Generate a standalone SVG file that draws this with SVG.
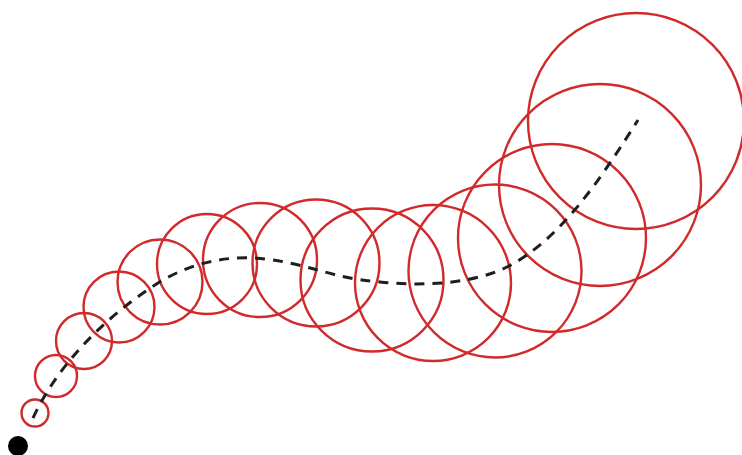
<svg xmlns="http://www.w3.org/2000/svg" width="742" height="455" viewBox="0 0 742 455">
<style>
.c{fill:none;stroke:#d02a2a;stroke-width:2.4}
.path{fill:none;stroke:#1e1e1e;stroke-width:3;stroke-dasharray:10 8}
</style>
<rect width="742" height="455" fill="#fff"/>
<g id="circles">
<g id="c1"><circle class="c" cx="35" cy="413" r="13.5"/></g>
<g id="c2"><circle class="c" cx="56" cy="376" r="21"/></g>
<g id="c3"><circle class="c" cx="84" cy="341" r="28"/></g>
<g id="c4"><circle class="c" cx="119" cy="307" r="35.5"/></g>
<g id="c5"><circle class="c" cx="160" cy="282" r="42.5"/></g>
<g id="c6"><circle class="c" cx="207" cy="264" r="50"/></g>
<g id="c7"><circle class="c" cx="260" cy="260" r="57"/></g>
<g id="c8"><circle class="c" cx="316" cy="263" r="63.5"/></g>
<g id="c9"><circle class="c" cx="372" cy="280" r="71.5"/></g>
<g id="c10"><circle class="c" cx="433" cy="283" r="78"/></g>
<g id="c11"><circle class="c" cx="495" cy="271" r="86.5"/></g>
<g id="c12"><circle class="c" cx="552" cy="238" r="94"/></g>
<g id="c13"><circle class="c" cx="600" cy="185" r="101"/></g>
<g id="c14"><circle class="c" cx="636" cy="121" r="108"/></g>
</g>
<g id="connectors">
<path class="path" d="M33,418 C55,370 100,320 158,283 C195,260 235,255 265,259 C310,264 330,278 380,282 C420,286 470,285 507,267 C560,240 600,180 638,120"/>
</g>
<g id="start"><circle cx="18" cy="446" r="10" fill="#000"/></g>
</svg>
